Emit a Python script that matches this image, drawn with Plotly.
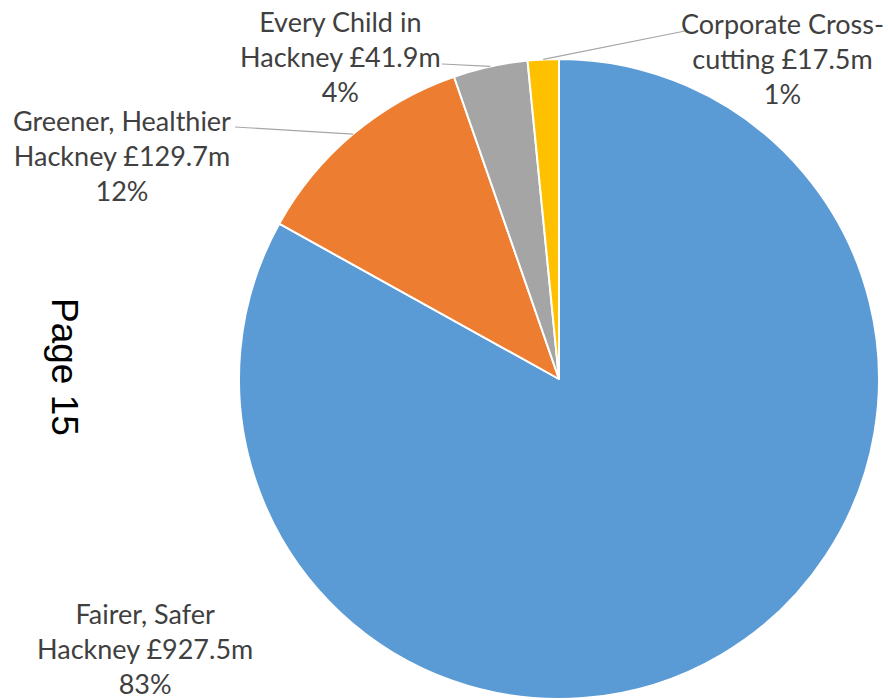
import math
import plotly.graph_objects as go

# Budget by priority (£m)
categories = ["Fairer, Safer Hackney", "Greener, Healthier Hackney",
              "Every Child in Hackney", "Corporate Cross-cutting"]
values = [927.5, 129.7, 41.9, 17.5]
percent_labels = ["83%", "12%", "4%", "1%"]
label_lines = [
    ["Fairer, Safer", "Hackney £927.5m"],
    ["Greener, Healthier", "Hackney £129.7m"],
    ["Every Child in", "Hackney £41.9m"],
    ["Corporate Cross-", "cutting £17.5m"],
]
colors = ["#5B9BD5", "#ED7D31", "#A5A5A5", "#FFC000"]

W, H = 888, 699
CX, CY, R = 559, 379, 320          # pie centre and radius in px

def px(x):
    return x / W

def py(y):
    return 1 - y / H

fig = go.Figure(go.Pie(
    labels=categories,
    values=values,
    sort=False,
    direction="clockwise",
    rotation=0,
    textinfo="none",
    hoverinfo="label+value+percent",
    marker=dict(colors=colors, line=dict(color="white", width=2)),
    domain=dict(x=[px(CX - R), px(CX + R)], y=[py(CY + R), py(CY - R)]),
    showlegend=False,
))

# label block centres (px) and where each leader line meets its label
label_pos = [(145, 648), (122, 155), (340, 56), (782, 58)]
leader_ends = [None, (235, 127), (442, 64), (685, 31)]

total = sum(values)
start = 0.0
annotations = []
shapes = []
for i, v in enumerate(values):
    frac = v / total
    mid = (start + frac / 2) * 2 * math.pi
    start += frac
    text = "<br>".join(label_lines[i] + [percent_labels[i]])
    lx, ly = label_pos[i]
    annotations.append(dict(
        x=px(lx), y=py(ly), xref="paper", yref="paper",
        text=text, showarrow=False, align="center",
        xanchor="center", yanchor="middle",
        font=dict(family="Lato", size=27, color="#404040"),
    ))
    if leader_ends[i] is not None:
        ex = CX + R * math.sin(mid)
        ey = CY - R * math.cos(mid)
        tx, ty = leader_ends[i]
        shapes.append(dict(
            type="line", xref="paper", yref="paper",
            x0=px(ex), y0=py(ey), x1=px(tx), y1=py(ty),
            line=dict(color="#A6A6A6", width=1.2),
        ))

annotations.append(dict(
    x=px(65), y=py(367), xref="paper", yref="paper",
    text="Page 15", showarrow=False, textangle=90,
    xanchor="center", yanchor="middle",
    font=dict(family="Liberation Sans", size=37, color="#000000"),
))

fig.update_layout(
    width=W, height=H,
    margin=dict(l=0, r=0, t=0, b=0),
    paper_bgcolor="white", plot_bgcolor="white",
    annotations=annotations, shapes=shapes,
)

fig.write_html("out.html")
